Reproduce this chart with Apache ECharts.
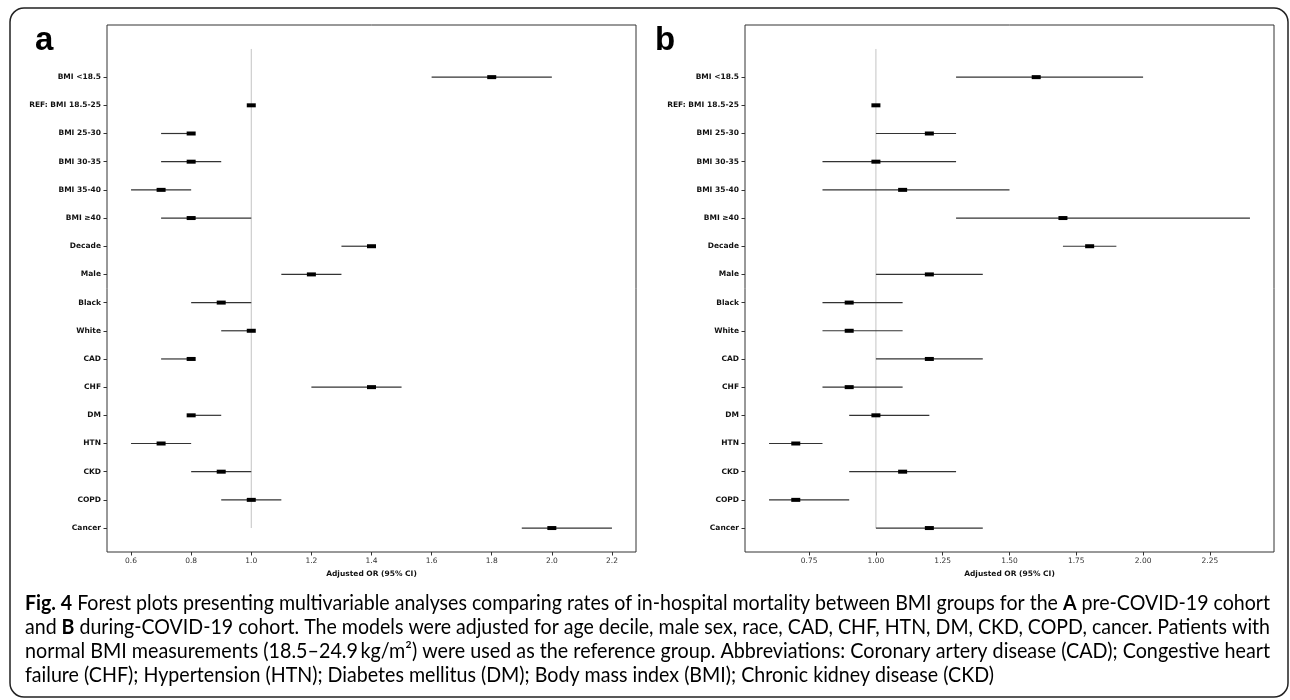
<!DOCTYPE html>
<html><head><meta charset="utf-8">
<script src="https://cdn.jsdelivr.net/npm/echarts@6/dist/echarts.min.js"></script>
<style>html,body{margin:0;padding:0;background:#fff}#c{width:1290px;height:700px}</style>
</head><body><div id="c"></div>
<script>
// Row labels (index 0 is an empty header row, as in the original plot)
const rowLabels = ['', 'BMI <18.5', 'REF: BMI 18.5-25', 'BMI 25-30', 'BMI 30-35', 'BMI 35-40', 'BMI \u226540',
  'Decade', 'Male', 'Black', 'White', 'CAD', 'CHF', 'DM', 'HTN', 'CKD', 'COPD', 'Cancer'];

// Panel a: pre-COVID-19 cohort
const aEst  = [null, 1.8, 1.0, 0.8, 0.8, 0.7, 0.8, 1.4, 1.2, 0.9, 1.0, 0.8, 1.4, 0.8, 0.7, 0.9, 1.0, 2.0];
const aLow  = [null, 1.6, 1.0, 0.7, 0.7, 0.6, 0.7, 1.3, 1.1, 0.8, 0.9, 0.7, 1.2, 0.8, 0.6, 0.8, 0.9, 1.9];
const aHigh = [null, 2.0, 1.0, 0.8, 0.9, 0.8, 1.0, 1.4, 1.3, 1.0, 1.0, 0.8, 1.5, 0.9, 0.8, 1.0, 1.1, 2.2];
const aTicks = [0.6, 0.8, 1.0, 1.2, 1.4, 1.6, 1.8, 2.0, 2.2];

// Panel b: during-COVID-19 cohort
const bEst  = [null, 1.6, 1.0, 1.2, 1.0, 1.1, 1.7, 1.8, 1.2, 0.9, 0.9, 1.2, 0.9, 1.0, 0.7, 1.1, 0.7, 1.2];
const bLow  = [null, 1.3, 1.0, 1.0, 0.8, 0.8, 1.3, 1.7, 1.0, 0.8, 0.8, 1.0, 0.8, 0.9, 0.6, 0.9, 0.6, 1.0];
const bHigh = [null, 2.0, 1.0, 1.3, 1.3, 1.5, 2.4, 1.9, 1.4, 1.1, 1.1, 1.4, 1.1, 1.2, 0.8, 1.3, 0.9, 1.4];
const bTicks = [0.75, 1.00, 1.25, 1.50, 1.75, 2.00, 2.25];

const refValue = 1.0;
const xName = 'Adjusted OR (95% CI)';

const captionLines = [
  [['b', 'Fig. 4'], ['n', ' Forest plots presenting multivariable analyses comparing rates of in-hospital mortality between BMI groups for the '], ['b', 'A'], ['n', ' pre-COVID-19 cohort']],
  [['n', 'and '], ['b', 'B'], ['n', ' during-COVID-19 cohort. The models were adjusted for age decile, male sex, race, CAD, CHF, HTN, DM, CKD, COPD, cancer. Patients with']],
  [['n', 'normal BMI measurements (18.5\u201324.9\u2009kg/m\u00b2) were used as the reference group. Abbreviations: Coronary artery disease (CAD); Congestive heart']],
  [['n', 'failure (CHF); Hypertension (HTN); Diabetes mellitus (DM); Body mass index (BMI); Chronic kidney disease (CKD)']]
];

// ---------- build ----------
const FONT_AX = 'DejaVu Sans';
const AX_SIZE = 7.5;
const rowIdx = rowLabels.map((_, i) => i).filter(i => i > 0);
const yMin = -0.05 * (rowLabels.length - 1), yMax = (rowLabels.length - 1) * 1.05;

function xRange(low, high) {
  const lo = Math.min(...low.filter(v => v != null)), hi = Math.max(...high.filter(v => v != null));
  const m = (hi - lo) * 0.05;
  return [lo - m, hi + m];
}

function ciData(est, low, high) {
  const out = [];
  for (let i = 0; i < est.length; i++) if (est[i] != null) out.push([est[i], i, low[i], high[i]]);
  return out;
}

function ciRender(params, api) {
  const row = api.value(1);
  const p0 = api.coord([api.value(2), row]);
  const p1 = api.coord([api.value(3), row]);
  const pc = api.coord([api.value(0), row]);
  return { type: 'group', children: [
    { type: 'line', shape: { x1: p0[0], y1: p0[1], x2: p1[0], y2: p1[1] }, style: { stroke: '#333', lineWidth: 1.2 } },
    { type: 'rect', shape: { x: pc[0] - 4.5, y: pc[1] - 2, width: 9, height: 4 }, style: { fill: '#000' } }
  ]};
}

function refRender(params, api) {
  const p0 = api.coord([api.value(0), api.value(1)]);
  const p1 = api.coord([api.value(0), api.value(2)]);
  return { type: 'line', shape: { x1: p0[0], y1: p0[1], x2: p1[0], y2: p1[1] }, style: { stroke: '#c4c4c4', lineWidth: 1 } };
}

const panels = [
  { est: aEst, low: aLow, high: aHigh, ticks: aTicks, dec: 1, left: 107 },
  { est: bEst, low: bLow, high: bHigh, ticks: bTicks, dec: 2, left: 745 }
];

const grid = [], xAxis = [], yAxis = [], series = [];
panels.forEach((p, k) => {
  const [xmin, xmax] = xRange(p.low, p.high);
  grid.push({ left: p.left, top: 25, width: 529, height: 527, show: true, borderColor: '#333', borderWidth: 1, backgroundColor: 'transparent' });
  xAxis.push({
    gridIndex: k, type: 'value', min: xmin, max: xmax, position: 'bottom',
    axisLine: { show: false, onZero: false }, splitLine: { show: false },
    axisTick: { show: true, customValues: p.ticks, length: 3.5, lineStyle: { color: '#333', width: 1 } },
    axisLabel: { customValues: p.ticks, formatter: v => Number(v).toFixed(p.dec), fontSize: AX_SIZE, color: '#333', margin: 5, fontFamily: FONT_AX },
    name: xName, nameLocation: 'middle', nameGap: 17,
    nameTextStyle: { fontWeight: 'bold', fontSize: AX_SIZE, color: '#111', fontFamily: FONT_AX }
  });
  yAxis.push({
    gridIndex: k, type: 'value', inverse: true, min: yMin, max: yMax, position: 'left',
    axisLine: { show: false, onZero: false }, splitLine: { show: false },
    axisTick: { show: true, customValues: rowIdx, length: 3.5, lineStyle: { color: '#333', width: 1 } },
    axisLabel: { customValues: rowIdx, formatter: v => rowLabels[Math.round(v)], fontSize: AX_SIZE, fontWeight: 'bold', color: '#111', margin: 6, fontFamily: FONT_AX }
  });
  series.push({ type: 'custom', xAxisIndex: k, yAxisIndex: k, renderItem: refRender, data: [[refValue, 0, rowLabels.length - 1]], silent: true, z: 1 });
  series.push({ type: 'custom', xAxisIndex: k, yAxisIndex: k, renderItem: ciRender, data: ciData(p.est, p.low, p.high), silent: true, z: 2 });
});

// caption, justified by horizontal scaling of each line
const CAP_FONT = 'Lato', CAP_SIZE = 21, CAP_LEFT = 25, CAP_RIGHT = 1270, CAP_TOP = 603, CAP_STEP = 24;
const ctx = document.createElement('canvas').getContext('2d');
function segWidth(kind, t) { ctx.font = (kind === 'b' ? 'bold ' : '') + CAP_SIZE + 'px ' + CAP_FONT; return ctx.measureText(t).width; }
const widths = captionLines.map(l => l.reduce((s, [k, t]) => s + segWidth(k, t), 0));
const scales = widths.map(w => (CAP_RIGHT - CAP_LEFT) / w);
const avgScale = (scales[0] + scales[1] + scales[2]) / 3;
const captionGraphics = captionLines.map((l, i) => ({
  type: 'text', x: CAP_LEFT, y: CAP_TOP + i * CAP_STEP, scaleX: i < captionLines.length - 1 ? scales[i] : avgScale,
  style: {
    text: l.map(([k, t]) => '{' + k + '|' + t + '}').join(''),
    rich: {
      n: { fontFamily: CAP_FONT, fontSize: CAP_SIZE, color: '#222' },
      b: { fontFamily: CAP_FONT, fontSize: CAP_SIZE, fontWeight: 'bold', color: '#222' }
    },
    verticalAlign: 'middle', align: 'left'
  }
}));

const chart = echarts.init(document.getElementById('c'), null, { renderer: 'canvas' });
chart.setOption({
  animation: false,
  backgroundColor: '#fff',
  grid, xAxis, yAxis, series,
  graphic: [
    { type: 'rect', shape: { x: 10, y: 8, width: 1278, height: 689, r: 14 }, style: { fill: 'none', stroke: '#222', lineWidth: 1.5 }, z: 0 },
    { type: 'text', x: 35, y: 41, style: { text: 'a', fontFamily: 'Liberation Sans', fontWeight: 'bold', fontSize: 33, fill: '#000', verticalAlign: 'middle' } },
    { type: 'text', x: 655, y: 41, style: { text: 'b', fontFamily: 'Liberation Sans', fontWeight: 'bold', fontSize: 33, fill: '#000', verticalAlign: 'middle' } },
    ...captionGraphics
  ]
});
</script>
</body></html>
